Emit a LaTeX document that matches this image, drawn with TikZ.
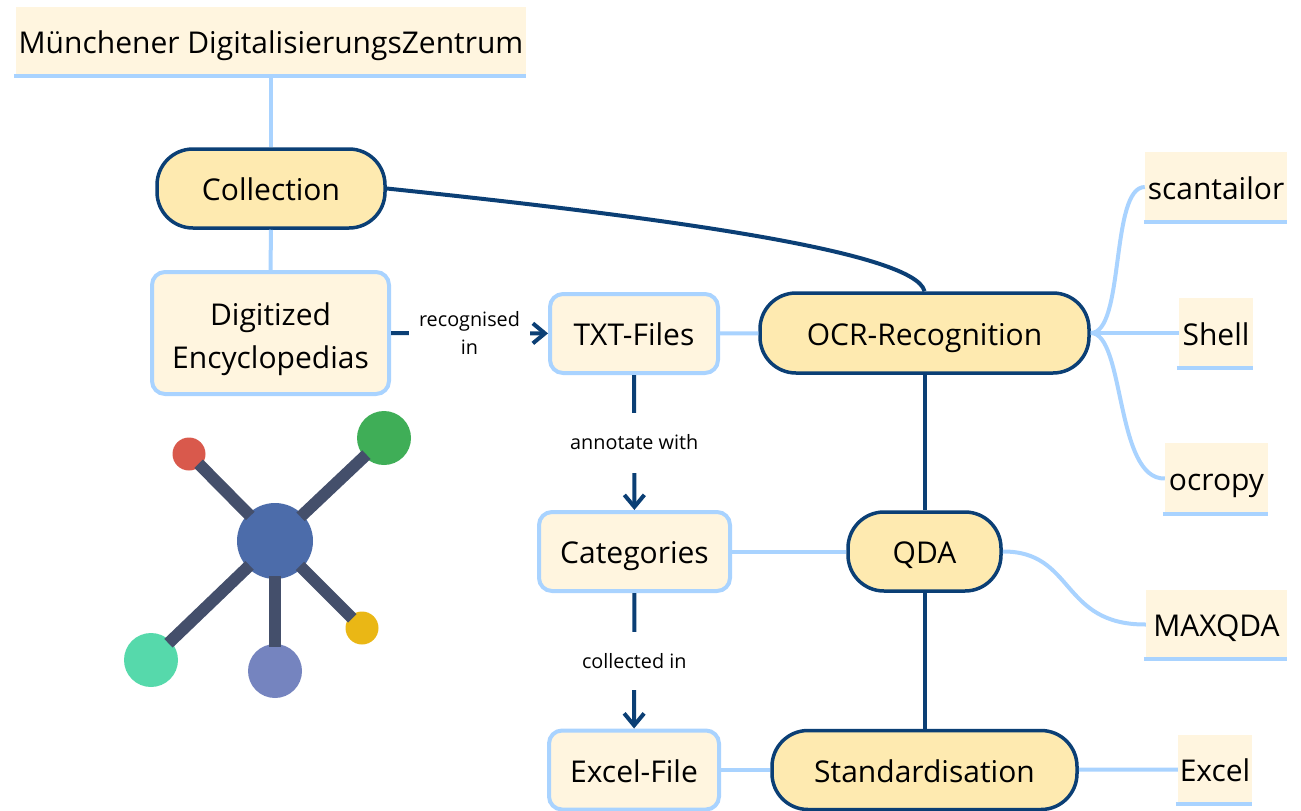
\documentclass[tikz,border=0pt]{standalone}
\usepackage{fontspec}
\setmainfont{Open Sans}
\usetikzlibrary{arrows.meta}

\definecolor{navy}{HTML}{0B3F75}
\definecolor{skyline}{HTML}{A9D3FF}
\definecolor{cream}{HTML}{FFF5DF}
\definecolor{butter}{HTML}{FEEAB0}
\definecolor{spokegray}{HTML}{444F6B}
\definecolor{hubblue}{HTML}{4C6CAA}
\definecolor{dotred}{HTML}{D9594C}
\definecolor{dotgreen}{HTML}{3FAE57}
\definecolor{dotteal}{HTML}{56D9AB}
\definecolor{dotviolet}{HTML}{7584BF}
\definecolor{dotyellow}{HTML}{EAB715}

\tikzset{
	base/.style={align=center, inner sep=0pt, text height=24pt, text depth=0pt, font=\fontsize{30}{43}\selectfont},
	topic/.style={base, draw=navy, fill=butter, line width=3.5pt, rounded corners=36pt},
	item/.style={base, draw=skyline, fill=cream, line width=4pt, rounded corners=13pt},
	leaf/.style={base, fill=cream},
	under/.style={draw=skyline, line width=3.5pt, yshift=-1pt},
	link/.style={draw=skyline, line width=4pt},
	main/.style={draw=navy, line width=4pt},
	flow/.style={main, -{Straight Barb[length=12pt,width=20pt]}},
	note/.style={fill=white, inner sep=0pt, align=center, font=\fontsize{19.8}{28}\selectfont},
	dot/.style={circle, inner sep=0pt, minimum size=#1},
	spoke/.style={draw=spokegray, line width=12pt, shorten <=-3pt, shorten >=-3pt},
}

\begin{document}
\begin{tikzpicture}[x=1pt, y=-1pt]
	\useasboundingbox (0,0) rectangle (1301,811);

	% left column
	\node[leaf, minimum width=510pt, minimum height=69pt] (mdz) at (271,41.5) {Münchener DigitalisierungsZentrum};
	\node[topic, minimum width=228pt, minimum height=79pt] (collection) at (271,188.5) {Collection};
	\node[item, text height=, text depth=0pt, minimum width=237pt, minimum height=122pt] (encyclo) at (270.5,333) {\rule{0pt}{27pt}Digitized\\Encyclopedias};

	% middle column
	\node[item, minimum width=168pt, minimum height=79pt] (txt) at (634,333.5) {TXT-Files};
	\node[item, minimum width=191pt, minimum height=79pt] (categories) at (634.5,551.5) {Categories};
	\node[item, minimum width=170pt, minimum height=79pt] (excelfile) at (634,770) {Excel-File};

	% topics
	\node[topic, minimum width=329pt, minimum height=80pt] (ocr) at (924.5,333) {OCR-Recognition};
	\node[topic, minimum width=153pt, minimum height=79pt] (qda) at (924.5,551.5) {QDA};
	\node[topic, minimum width=305pt, minimum height=79pt] (standard) at (924.5,770) {Standardisation};

	% tools
	\node[leaf, minimum width=142pt, minimum height=70pt] (scantailor) at (1216,187) {scantailor};
	\node[leaf, minimum width=74pt, minimum height=70pt] (shell) at (1216,333) {Shell};
	\node[leaf, minimum width=103pt, minimum height=71pt] (ocropy) at (1216.5,478.5) {ocropy};
	\node[leaf, minimum width=141pt, minimum height=69pt] (maxqda) at (1216.5,624.5) {MAXQDA};
	\node[leaf, minimum width=74pt, minimum height=69pt] (excel) at (1215,769.5) {Excel};

	\draw[under] ([xshift=-2pt]mdz.south west) -- (mdz.south east);
	\draw[under] ([xshift=-1pt]scantailor.south west) -- (scantailor.south east);
	\draw[under] ([xshift=-2pt]shell.south west) -- (shell.south east);
	\draw[under] ([xshift=-2pt]ocropy.south west) -- (ocropy.south east);
	\draw[under] ([xshift=-2pt]maxqda.south west) -- (maxqda.south east);
	\draw[under] ([xshift=-2pt]excel.south west) -- (excel.south east);

	\draw[link] (mdz.south) -- (collection.north);
	\draw[link] (collection.south) -- (encyclo.north);
	\draw[link] (txt) -- (ocr);
	\draw[link] (categories) -- (qda);
	\draw[link] (excelfile) -- (standard);
	\draw[link] (standard) -- (excel);
	\draw[link] (ocr.east) .. controls (1125,333) and (1110,187) .. (scantailor.west);
	\draw[link] (ocr.east) -- (shell.west);
	\draw[link] (ocr.east) .. controls (1125,333) and (1115,480) .. (ocropy.west);
	\draw[link] (qda.east) .. controls (1075,551) and (1060,625) .. (maxqda.west);

	\draw[main] (collection.east) .. controls (640,215) and (915,250) .. (ocr.north);
	\draw[main] (ocr) -- (qda);
	\draw[main] (qda) -- (standard);

	\draw[flow] (encyclo) -- node[note, minimum width=121pt] (recognised) {recognised\\in} (txt);
	\draw[flow] (txt) -- node[note, minimum height=60pt] (annotate) {annotate with} (categories);
	\draw[flow] (categories) -- node[note, minimum height=58pt] (collected) {collected in} (excelfile);

	% network picture
	\node[dot=76pt, fill=hubblue] (hub) at (275,541) {};
	\node[dot=33pt, fill=dotred] (red) at (189,454) {};
	\node[dot=54pt, fill=dotgreen] (green) at (384,438) {};
	\node[dot=54pt, fill=dotteal] (teal) at (151,660) {};
	\node[dot=54pt, fill=dotviolet] (violet) at (275,671) {};
	\node[dot=33pt, fill=dotyellow] (yellow) at (362,628) {};
	\foreach \leafdot in {red, green, teal, violet, yellow}
		\draw[spoke] (hub) -- (\leafdot);
\end{tikzpicture}
\end{document}
